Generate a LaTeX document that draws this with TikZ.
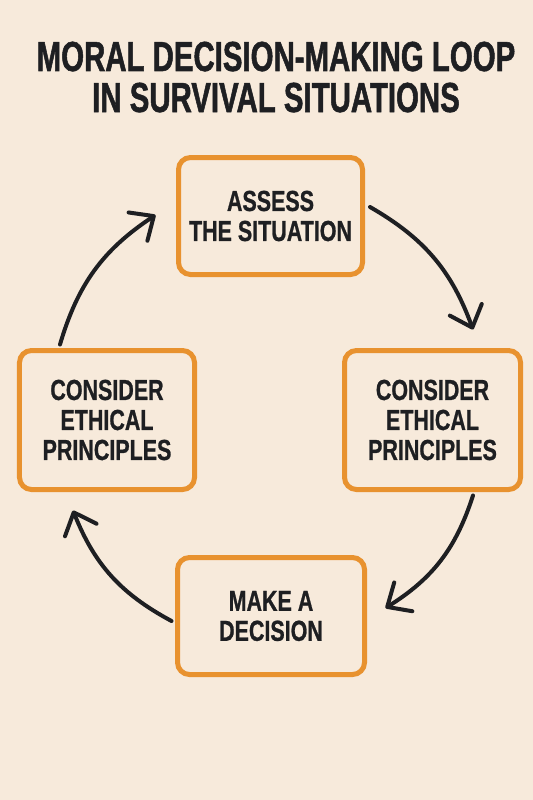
\documentclass[tikz,border=0pt]{standalone}
\usepackage{fontspec}
\usetikzlibrary{arrows.meta,calc}
\newfontfamily\titlefont[FakeStretch=0.70,FakeBold=1.2]{Liberation Sans}
\newfontfamily\stepfont[FakeStretch=0.74,FakeBold=0.8]{Liberation Sans}
\definecolor{paper}{HTML}{F7EADB}
\definecolor{rim}{HTML}{E8922F}
\definecolor{ink}{HTML}{1E1F22}

\begin{document}
\begin{tikzpicture}[x=1bp,y=-1bp,
every node/.style={text=ink},
stepbox/.style={draw=rim,fill=paper,line width=5bp,rounded corners=12bp,
	align=center,inner sep=0pt,font=\stepfont\bfseries\fontsize{29bp}{30bp}\selectfont},
loopedge/.style={draw=ink,line width=4bp,line cap=round,
	-{Straight Barb[length=19bp,width=34bp,line cap=round,line join=round]}}]
\fill[paper] (0,0) rectangle (533,800);
\useasboundingbox (0,0) rectangle (533,800);

%title, two lines (base is the last line)
\node[anchor=base,align=center,font=\titlefont\bfseries\fontsize{42bp}{41bp}\selectfont] (title) at (276,112)
	{MORAL DECISION-MAKING LOOP\\IN SURVIVAL SITUATIONS};

%the four steps of the loop
\node[stepbox,minimum width=184bp,minimum height=117bp] (assess) at (270.5,216) {ASSESS\\THE SITUATION};
\node[stepbox,minimum width=176bp,minimum height=139bp] (ethR) at (432.5,420) {CONSIDER\\ETHICAL\\PRINCIPLES};
\node[stepbox,minimum width=187bp,minimum height=117bp] (decide) at (271,616) {MAKE A\\DECISION};
\node[stepbox,minimum width=175bp,minimum height=139bp] (ethL) at (107,420) {CONSIDER\\ETHICAL\\PRINCIPLES};

%arrows going round clockwise: start node/offset, end node/offset
\foreach \from/\fs/\to/\ts in {assess.east/{5,-9}/ethR.north/{40.5,-18.5},
	ethR.south/{40.5,3.5}/decide.east/{18.5,-8},
	decide.west/{-3.5,5}/ethL.south/{-34,18.5},
	ethL.north/{-47,-3.5}/assess.west/{-20.5,-1}}
	\draw[loopedge] ($(\from)+(\fs)$) to[bend left=20] ($(\to)+(\ts)$);
\end{tikzpicture}
\end{document}
